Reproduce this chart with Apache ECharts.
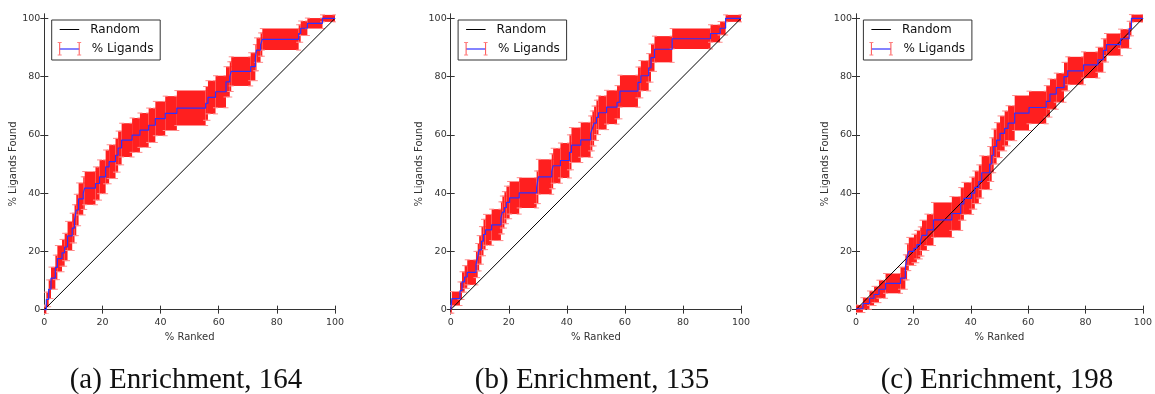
<!DOCTYPE html>
<html>
<head>
<meta charset="utf-8">
<script src="https://cdn.jsdelivr.net/npm/echarts@6/dist/echarts.min.js"></script>
<style>
  html, body { margin: 0; padding: 0; background: #fff; }
  #chart { width: 1155px; height: 394px; }
</style>
</head>
<body>
<div id="chart"></div>
<script>
// step knots: level y starts at x and holds until the next x
const aRankX = [0, 0.7, 1.5, 2.3, 3.8, 4.5, 6.1, 7.0, 8.0, 9.6, 10.4, 11.0, 11.8, 13.4, 13.9, 17.6, 19.0, 21.1, 22.3, 24.5, 25.4, 26.6, 30.2, 32.9, 35.9, 38.2, 41.6, 45.6, 55.5, 56.3, 58.9, 62.5, 63.8, 64.3, 71.0, 72.6, 73.0, 74.4, 75.0, 87.5, 88.2, 90.5, 95.7, 100];
const aFound = [0, 3.5, 7, 10.8, 14.5, 17.5, 19.5, 21.5, 25.3, 28, 30.7, 34.2, 38, 40, 41.7, 43.3, 45.6, 49, 50.8, 53, 55.5, 58.2, 59.9, 61.6, 63.3, 65.6, 67.4, 69.2, 70.8, 72.9, 74.8, 78.2, 80, 81.8, 83.4, 86.5, 89.1, 91, 92.8, 94.8, 96.6, 98.3, 100, 100];
const aErr = [1.5, 2.5, 3.2, 3.8, 4.2, 4.5, 4.6, 4.7, 5, 5.1, 5.3, 5.4, 5.5, 5.6, 5.7, 5.7, 5.8, 5.8, 5.8, 5.8, 5.8, 5.8, 5.9, 5.9, 5.9, 5.9, 5.9, 6, 5.8, 5.7, 5.5, 5.2, 5.1, 5, 4.8, 4.5, 4.2, 4, 3.7, 3, 2.5, 1.8, 1.2, 1.2];

const bRankX = [0, 0.4, 3.2, 3.9, 4.8, 5.7, 8.7, 9.3, 9.8, 10.6, 11.3, 12.0, 14.1, 17.3, 17.8, 18.5, 19.2, 20.3, 23.6, 29.6, 30.2, 34.8, 35.3, 37.8, 40.9, 41.6, 44.8, 48.2, 48.8, 49.4, 50.2, 50.9, 53.7, 57.3, 58.3, 64.5, 65.5, 68.2, 69.0, 70.2, 76.3, 89.5, 92.8, 94.7, 100];
const bFound = [0, 3.8, 6.5, 9.5, 11.2, 12.8, 15.5, 18, 20.5, 23.5, 25.8, 27.4, 29.1, 31.5, 33.5, 35, 36.8, 38.4, 40.1, 42, 45.6, 47.5, 49.4, 51.2, 54, 56.5, 58.3, 60.5, 62.2, 64, 66, 67.6, 69.5, 71.2, 75, 78, 80.3, 83, 86.5, 89.4, 93, 94.8, 96.6, 100, 100];
const bErr = [1.2, 2.4, 3, 3.5, 3.9, 4.3, 4.5, 4.7, 4.9, 5, 5.2, 5.3, 5.4, 5.5, 5.5, 5.5, 5.6, 5.6, 5.2, 5.6, 6, 6, 6, 6, 6, 6, 6, 6, 6, 5.9, 5.9, 5.8, 5.8, 5.7, 5.5, 5.3, 5.2, 4.9, 4.7, 4.5, 3.5, 3, 2.3, 1.2, 1.2];

const cRankX = [0, 2.4, 4.7, 6.3, 8.0, 10.3, 15.5, 17.2, 17.8, 18.4, 20.2, 21.2, 22.4, 23.0, 24.7, 27.0, 33.4, 36.5, 37.6, 40.3, 41.4, 42.8, 43.8, 46.6, 47.3, 48.0, 49.0, 50.2, 51.8, 53.0, 55.3, 60.3, 66.3, 67.6, 69.8, 72.5, 73.8, 79.3, 84.3, 86.2, 87.3, 92.2, 95.2, 96.0, 100];
const cFound = [0.3, 2.1, 3.9, 5.2, 7, 9, 10.8, 14.5, 18, 20, 21, 22.3, 23.4, 25.5, 27.4, 30.8, 33, 36.3, 38.2, 40, 42, 44, 47, 50, 53, 56, 58.2, 60.5, 62.2, 64, 67.5, 69.4, 71.5, 74, 76.2, 80, 82, 84, 85.8, 89, 91, 93, 96.5, 100, 100];
const cErr = [1.3, 2, 2.5, 2.8, 3.1, 3.4, 3.8, 4.3, 4.6, 4.8, 4.9, 4.9, 5, 5.2, 5.4, 6, 5.8, 5.6, 5.5, 5.5, 5.6, 5.7, 5.8, 6, 6, 6, 6, 6, 6, 6, 6, 5.6, 5.4, 5.2, 5, 4.9, 4.8, 4.5, 4.3, 4, 3.8, 3.3, 2.5, 1.3, 1.3];

const randomX = [0, 100];
const randomY = [0, 100];
const xTicks = [0, 20, 40, 60, 80, 100];
const yTicks = [0, 20, 40, 60, 80, 100];
const captions = ['(a) Enrichment, 164', '(b) Enrichment, 135', '(c) Enrichment, 198'];

const panels = [
  { x: aRankX, y: aFound, e: aErr, left: 44.3, width: 290.7, cap: 186 },
  { x: bRankX, y: bFound, e: bErr, left: 450.7, width: 290.3, cap: 592 },
  { x: cRankX, y: cFound, e: cErr, left: 856, width: 291.3, cap: 997 }
];

const FRAME = '#333';
const RED = '#ff1f1f';
const BLUE = '#2f2fff';
const labelFont = { color: '#333', fontSize: 9.5, fontFamily: 'DejaVu Sans' };

// one red error-bar block per step level, with pink caps at both ends
function bandItem(params, api) {
  const x0 = api.value(0), x1 = api.value(1), y = api.value(2), e = api.value(3);
  const p0 = api.coord([x0, y + e]);
  const p1 = api.coord([x1, y - e]);
  const capStyle = { stroke: '#ff8a8a', lineWidth: 1 };
  const cap = (cx, cy) => ({ type: 'line', shape: { x1: cx - 2.5, y1: cy, x2: cx + 2.5, y2: cy }, style: capStyle });
  return {
    type: 'group',
    children: [
      { type: 'rect', shape: { x: p0[0], y: p0[1], width: p1[0] - p0[0], height: p1[1] - p0[1] }, style: { fill: RED } },
      cap(p0[0], p0[1]), cap(p0[0], p1[1]),
      cap(p1[0], p0[1]), cap(p1[0], p1[1])
    ]
  };
}

const grid = [], xAxis = [], yAxis = [], series = [], graphic = [];

panels.forEach((p, i) => {
  grid.push({ left: p.left, top: 14, width: p.width, height: 300, show: false });

  const tick = { show: true, inside: true, length: 4, lineStyle: { color: FRAME } };
  const line = { show: true, lineStyle: { color: FRAME, width: 1 } };
  xAxis.push({
    type: 'value', gridIndex: i, min: 0, max: 100, interval: 20, position: 'bottom',
    axisLine: line, axisTick: tick, splitLine: { show: false },
    axisLabel: Object.assign({ margin: 4, customValues: xTicks }, labelFont),
    name: '% Ranked', nameLocation: 'middle', nameGap: 12,
    nameTextStyle: { color: '#333', fontSize: 10, fontFamily: 'DejaVu Sans' }
  });
  xAxis.push({
    type: 'value', gridIndex: i, min: 0, max: 100, interval: 20, position: 'top',
    axisLine: line, axisTick: tick, splitLine: { show: false }, axisLabel: { show: false }
  });
  yAxis.push({
    type: 'value', gridIndex: i, min: -1.5, max: 101.5, position: 'left',
    axisLine: line, axisTick: Object.assign({ customValues: yTicks }, tick), splitLine: { show: false },
    axisLabel: Object.assign({ margin: 4, customValues: yTicks }, labelFont),
    name: '% Ligands Found', nameLocation: 'middle', nameGap: 25, nameRotate: 90,
    nameTextStyle: { color: '#333', fontSize: 10, fontFamily: 'DejaVu Sans' }
  });
  yAxis.push({
    type: 'value', gridIndex: i, min: -1.5, max: 101.5, position: 'right',
    axisLine: line, axisTick: Object.assign({ customValues: yTicks }, tick), splitLine: { show: false },
    axisLabel: { show: false }
  });

  const segs = [];
  for (let k = 0; k < p.x.length - 1; k++) segs.push([p.x[k], p.x[k + 1], p.y[k], p.e[k]]);

  series.push({
    type: 'custom', xAxisIndex: 2 * i, yAxisIndex: 2 * i, renderItem: bandItem,
    data: segs, clip: true, z: 1, silent: true
  });
  series.push({
    type: 'line', name: 'Random', xAxisIndex: 2 * i, yAxisIndex: 2 * i,
    data: randomX.map((v, k) => [v, randomY[k]]), showSymbol: false, symbol: 'none',
    lineStyle: { color: '#000', width: 1 }, z: 2, silent: true
  });
  series.push({
    type: 'line', name: '% Ligands', xAxisIndex: 2 * i, yAxisIndex: 2 * i,
    data: p.x.map((v, k) => [v, p.y[k]]), step: 'end', symbol: 'none',
    lineStyle: { color: BLUE, width: 1.2 }, z: 3, silent: true
  });

  // legend box
  const L = p.left + 7.4, T = 20;
  graphic.push({
    type: 'group', x: L, y: T, z: 100,
    children: [
      { type: 'rect', shape: { x: 0, y: 0, width: 108.5, height: 40 }, style: { fill: '#fff', stroke: FRAME, lineWidth: 1 } },
      { type: 'line', shape: { x1: 8, y1: 9.5, x2: 27.5, y2: 9.5 }, style: { stroke: '#000', lineWidth: 1 } },
      { type: 'text', x: 38.5, y: 9.5, style: { text: 'Random', font: '12px "DejaVu Sans"', fill: '#111', textVerticalAlign: 'middle' } },
      { type: 'line', shape: { x1: 8, y1: 29, x2: 27.5, y2: 29 }, style: { stroke: BLUE, lineWidth: 1.2 } },
      { type: 'line', shape: { x1: 8, y1: 22.5, x2: 8, y2: 35 }, style: { stroke: '#ff5050', lineWidth: 1 } },
      { type: 'line', shape: { x1: 27.5, y1: 22.5, x2: 27.5, y2: 35 }, style: { stroke: '#ff5050', lineWidth: 1 } },
      { type: 'line', shape: { x1: 6, y1: 22.5, x2: 10, y2: 22.5 }, style: { stroke: '#ff8080', lineWidth: 1 } },
      { type: 'line', shape: { x1: 6, y1: 35, x2: 10, y2: 35 }, style: { stroke: '#ff8080', lineWidth: 1 } },
      { type: 'line', shape: { x1: 25.5, y1: 22.5, x2: 29.5, y2: 22.5 }, style: { stroke: '#ff8080', lineWidth: 1 } },
      { type: 'line', shape: { x1: 25.5, y1: 35, x2: 29.5, y2: 35 }, style: { stroke: '#ff8080', lineWidth: 1 } },
      { type: 'text', x: 40, y: 29, style: { text: '% Ligands', font: '12px "DejaVu Sans"', fill: '#111', textVerticalAlign: 'middle' } }
    ]
  });

  graphic.push({
    type: 'text', x: p.cap, y: 380, z: 100,
    style: { text: captions[i], font: '29px "Liberation Serif"', fill: '#111', textAlign: 'center', textVerticalAlign: 'middle' }
  });
});

const chart = echarts.init(document.getElementById('chart'), null, { renderer: 'canvas' });
chart.setOption({
  animation: false,
  backgroundColor: '#fff',
  grid, xAxis, yAxis, series, graphic
});
</script>
</body>
</html>
